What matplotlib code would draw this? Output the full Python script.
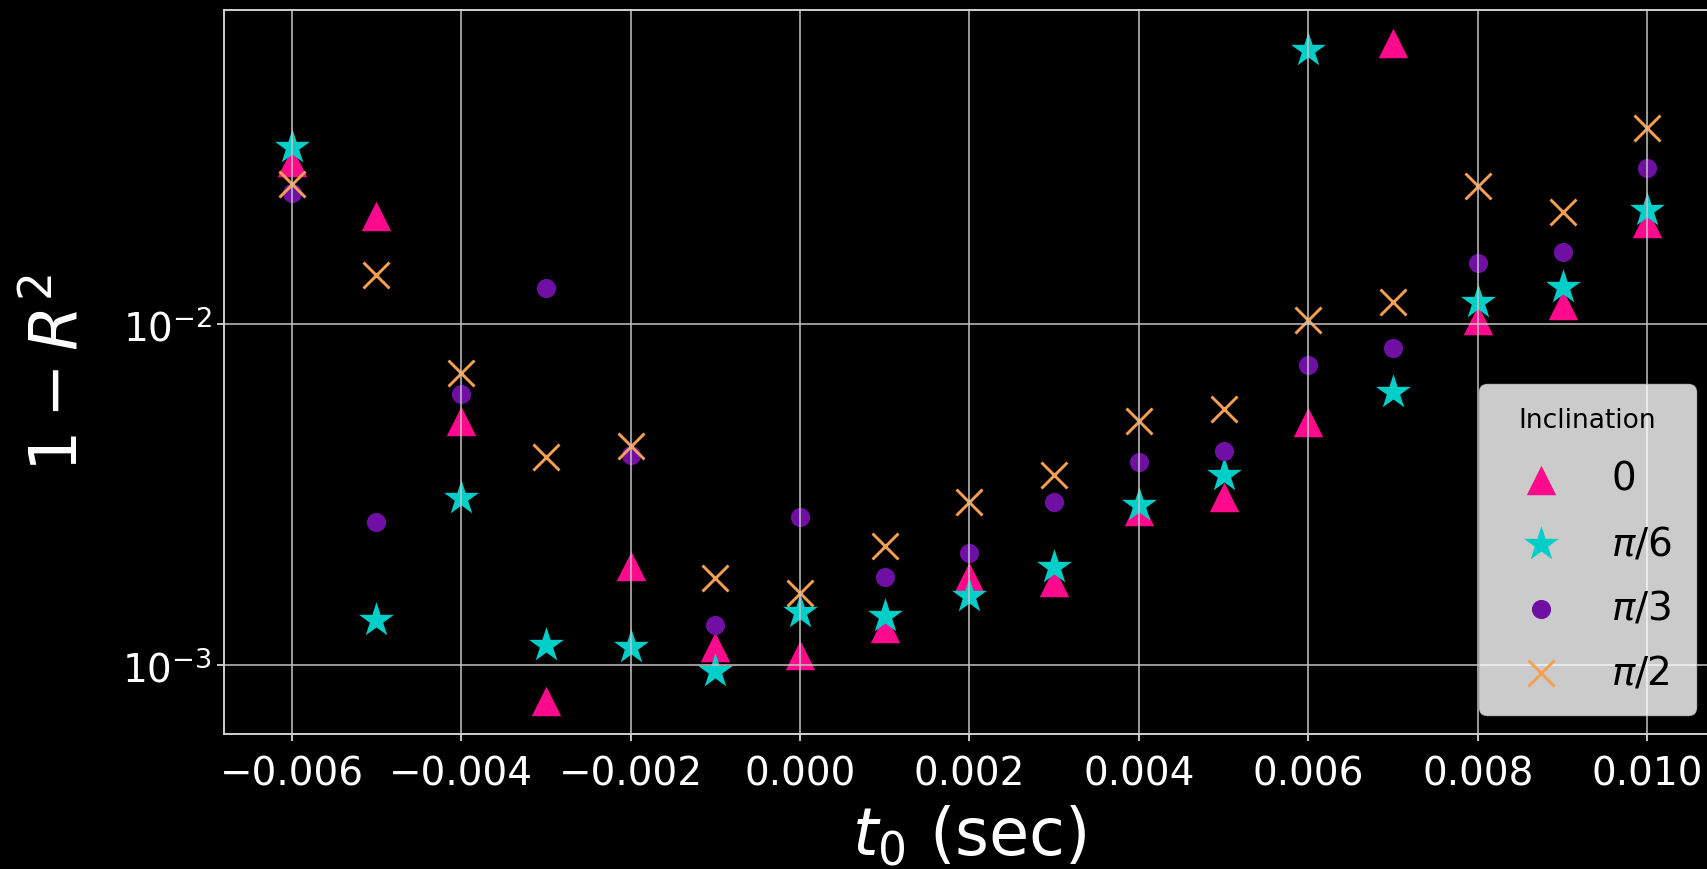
import matplotlib as mpl
mpl.use('Agg')
import matplotlib.pyplot as plt
import numpy as np

# t0 offsets (sec)
t0 = [-0.006, -0.005, -0.004, -0.003, -0.002, -0.001, 0.000, 0.001, 0.002,
      0.003, 0.004, 0.005, 0.006, 0.007, 0.008, 0.009, 0.010]

# 1 - R^2 for each inclination
r_incl_0 = [0.0300, 0.0208, 0.00521, 0.000785, 0.00196, 0.00113, 0.00107, 0.00129, 0.00182,
            0.00176, 0.00283, 0.00312, 0.00516, 0.0670, 0.0103, 0.0114, 0.0199]
r_incl_pi6 = [0.0331, 0.00136, 0.00309, 0.00115, 0.00113, 0.000964, 0.00143, 0.00139, 0.00160,
              0.00194, 0.00296, 0.00361, 0.0637, 0.00635, 0.0116, 0.0129, 0.0217]
r_incl_pi3 = [0.0243, 0.00263, 0.00625, 0.0128, 0.00415, 0.00131, 0.00273, 0.00182, 0.00214,
              0.00301, 0.00394, 0.00424, 0.0076, 0.0085, 0.0151, 0.0163, 0.0288]
r_incl_pi2 = [0.0259, 0.0140, 0.00719, 0.00408, 0.00439, 0.00180, 0.00163, 0.00224, 0.00301,
              0.00361, 0.00521, 0.00565, 0.0103, 0.0116, 0.0254, 0.0213, 0.0377]

labels = ['0', r'$\pi/6$', r'$\pi/3$', r'$\pi/2$']
series = [r_incl_0, r_incl_pi6, r_incl_pi3, r_incl_pi2]
markers = ['^', '*', 'o', 'x']
sizes = [450, 700, 190, 350]
colors = ['#ff0a8c', '#00cfc9', '#6f0fa3', '#f5a050']

fig = plt.figure(figsize=(17.08, 8.70), dpi=100, facecolor='black')
ax = fig.add_axes([0.1311, 0.1552, 0.8730, 0.8322], facecolor='black')

for y, lab, m, s, c in zip(series, labels, markers, sizes, colors):
    if m == 'x':
        ax.scatter(t0, y, marker=m, s=s, color=c, linewidths=2.1, label=lab)
    else:
        ax.scatter(t0, y, marker=m, s=s, color=c, linewidths=0, label=lab)

ax.set_yscale('log')
ax.grid(True, color='#c4c4c4', linewidth=1.1)

for sp in ax.spines.values():
    sp.set_color('#d0d0d0')
    sp.set_linewidth(1.4)

ax.tick_params(colors='white', labelsize=28, width=1.1, length=5)
ax.tick_params(axis='x', pad=10)
ax.set_xlabel(r'$t_0$ (sec)', fontsize=47, color='white', labelpad=8)
ax.set_ylabel(r'$1-R^2$', fontsize=47, color='white', labelpad=22)

leg = ax.legend(title='Inclination', fontsize=28, title_fontsize=19,
                loc='lower right', borderaxespad=0.5, borderpad=0.6,
                labelspacing=0.68)

fig.savefig('out.png', dpi=100, facecolor='black')
